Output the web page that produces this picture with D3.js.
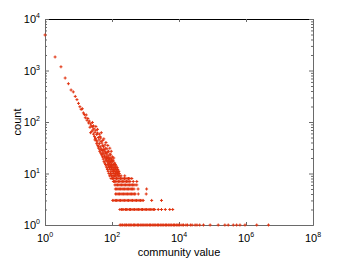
<!DOCTYPE html>
<html>
<head>
<meta charset="utf-8">
<script src="https://d3js.org/d3.v7.min.js"></script>
<style>
body { margin: 0; background: #fff; }
text { font-family: Arial, "Liberation Sans", sans-serif; fill: #000; }
</style>
</head>
<body>
<div id="chart"></div>
<script>
// community values with a count above the integer bands
const communityValue = [1,2,3,4,5,6,7,8,9,10,11,12,13,14,15,16,17,18,19,20,
  21,22,23,24,25,26,27,28,29,30,31,32,33,34,35,36,37,38,39,40,
  41,42,43,44,45,46,47,48,49,50,51,52,53,54,55,56,57,58,59,60,
  61,62,63,64,65,66,67,68,69,70,71,72,73,74,75,76,77,78,79,80,
  81,82,83,84,85,86,87,88,89,90,91,92,93,94,95,96,97,98,99,100,
  102,104,105,107,109,110,112,114,116,118,121,124,127,131,135,140,146,152];
const communityCount = [4900,1830,1180,715,554,418,384,314,272,230,198,176,181,150,139,121,137,108,117,96,
  104,79,92,84,66,81,70,58,74,52,63,48,69,44,57,41,61,35,50,31,
  45,38,27,52,33,25,42,30,23,39,28,21,35,26,19,33,24,17,29,22,
  16,27,20,15,31,18,14,25,21,13,23,17,12,26,15,20,11,18,14,22,
  10,16,13,19,9,15,24,12,17,10,14,20,11,8,16,13,9,18,12,10,
  14,8,17,11,13,7,15,10,12,9,11,13,10,11,10,12,10,11];

// second sample of the same range (fills the scatter cloud)
const extraValue = [23,26,28,31,33,35,37,39,42,44,46,48,51,53,55,57,59,62,64,66,68,71,73,75,77,79,
  82,84,86,88,91,93,95,97,99,103,106,108,111,113,117,120,123,126,129,133,137,143,148,155,160,165];
const extraCount = [62,98,84,45,82,38,72,33,58,29,49,62,24,44,29,47,21,36,25,40,19,30,20,35,16,27,
  20,13,31,17,23,14,27,19,15,21,12,18,11,20,14,16,12,15,13,14,11,13,12,10,11,10];

// values that share the same small count (the horizontal bands)
const bandLevels = [9,8,7,6,5,4,3,2,1];
const valuesAt9 = [98,108,117,129,141,155,170,186,240];
const valuesAt8 = [112,124,136,149,163,179,196,215,236,259,284,311,340,390];
const valuesAt7 = [118,129,141,155,170,187,204,224,246,270,296,322,345,430,550];
const valuesAt6 = [122,133,146,160,176,193,211,232,254,279,305,335,368,404,430,485,550];
const valuesAt5 = [126,138,151,165,181,199,217,238,262,287,313,345,378,412,452,600,1080];
const valuesAt4 = [128,140,154,168,185,202,222,243,266,292,320,351,384,421,462,490,610,1050];
const valuesAt3 = [105,114,126,137,150,165,180,198,216,238,260,286,312,343,375,410,452,494,540,595,650,712,785,855,1530,3000];
const valuesAt2 = [172,191,209,226,252,273,298,331,356,394,430,472,521,566,622,679,752,815,902,985,1080,1190,1295,1430,1560,1720,1880,
  2400,3000,3900,5300,6500];
const valuesAt1 = [174,186,205,231,248,271,303,327,362,391,437,470,518,575,619,690,744,828,897,981,1090,1178,1310,1415,1570,1702,1890,
  2040,2270,2450,2730,2940,3280,3530,3940,4240,4730,5090,5690,6110,6830,7350,8210,8830,9850,10600,12300,13600,16100,17900,
  21900,24600,30200,34400,41500,53700,85100,148000,234000,295000,417000,525000,661000,933000,2090000,4680000];
const bandValues = [valuesAt9,valuesAt8,valuesAt7,valuesAt6,valuesAt5,valuesAt4,valuesAt3,valuesAt2,valuesAt1];

// tick exponents
const xTickExp = [0,2,4,6,8];
const yTickExp = [0,1,2,3,4];

// set the dimensions and margins of the graph
var margin = {top: 19, right: 33, bottom: 33, left: 45},
    width = 346 - margin.left - margin.right,
    height = 258 - margin.top - margin.bottom;

const svg = d3.select("#chart")
.append("svg")
.attr("width", width + margin.left + margin.right)
.attr("height", height + margin.top + margin.bottom)
.append("g")
.attr("transform", `translate(${margin.left}, ${margin.top})`);

// points
let data = communityValue.map((v, i) => ({value: v, count: communityCount[i]}));
extraValue.forEach((v, i) => data.push({value: v, count: extraCount[i]}));
bandLevels.forEach((c, i) => bandValues[i].forEach(v => data.push({value: v, count: c})));

const x = d3.scaleLog().domain([1, 1e8]).range([0, width]);
const y = d3.scaleLog().domain([1, 1e4]).range([height, 0]);

const xMajor = xTickExp.map(e => Math.pow(10, e));
const yMajor = yTickExp.map(e => Math.pow(10, e));
const yMinor = [];
yTickExp.slice(0, -1).forEach(e => { for (let k = 2; k < 10; k++) yMinor.push(k * Math.pow(10, e)); });

const axisColor = "#6a6a6a";
function styleAxis(g) {
  g.selectAll("path.domain").attr("stroke", axisColor);
  g.selectAll(".tick line").attr("stroke", axisColor);
}

// bottom + top x axis (ticks pointing in)
svg.append("g")
.attr("transform", `translate(0, ${height})`)
.call(d3.axisBottom(x).tickValues(xMajor).tickSize(-3).tickSizeOuter(0).tickFormat(""))
.call(styleAxis);
svg.append("g")
.call(d3.axisTop(x).tickValues(xMajor).tickSize(-3).tickSizeOuter(0).tickFormat(""))
.call(styleAxis)
.select("path.domain").attr("stroke", "#000");

// left + right y axis, major and minor ticks
svg.append("g")
.call(d3.axisLeft(y).tickValues(yMajor).tickSize(-4).tickSizeOuter(0).tickFormat(""))
.call(styleAxis);
svg.append("g")
.call(d3.axisLeft(y).tickValues(yMinor).tickSize(-2).tickSizeOuter(0).tickFormat(""))
.call(styleAxis);
svg.append("g")
.attr("transform", `translate(${width}, 0)`)
.call(d3.axisRight(y).tickValues(yMajor).tickSize(-4).tickSizeOuter(0).tickFormat(""))
.call(styleAxis);
svg.append("g")
.attr("transform", `translate(${width}, 0)`)
.call(d3.axisRight(y).tickValues(yMinor).tickSize(-2).tickSizeOuter(0).tickFormat(""))
.call(styleAxis);

// tick labels as 10 with superscript
const xl = svg.append("g").selectAll("text")
.data(xTickExp)
.join("text")
.attr("x", d => x(Math.pow(10, d)))
.attr("y", height + 17)
.attr("text-anchor", "middle")
.style("font-size", "11px");
xl.append("tspan").text("10");
xl.append("tspan").attr("dy", -5).style("font-size", "7px").text(d => d);

const yl = svg.append("g").selectAll("text")
.data(yTickExp)
.join("text")
.attr("x", -5)
.attr("y", d => y(Math.pow(10, d)) + 4)
.attr("text-anchor", "end")
.style("font-size", "11px");
yl.append("tspan").text("10");
yl.append("tspan").attr("dy", -5).style("font-size", "7px").text(d => d);

// axis titles
svg.append("text")
.attr("x", width / 2)
.attr("y", height + 31)
.attr("text-anchor", "middle")
.style("font-size", "11px")
.text("community value");
svg.append("text")
.attr("transform", `translate(-24, ${height / 2}) rotate(-90)`)
.attr("text-anchor", "middle")
.style("font-size", "11px")
.text("count");

// Add dots
svg.append("g")
.selectAll("path")
.data(data)
.join("path")
.attr("transform", d => `translate(${x(d.value)}, ${y(d.count)})`)
.attr("d", "M-1.5,0H1.5M0,-1.5V1.5")
.attr("stroke", "#e0320f")
.attr("stroke-width", 1)
.attr("fill", "none");
</script>
</body>
</html>
